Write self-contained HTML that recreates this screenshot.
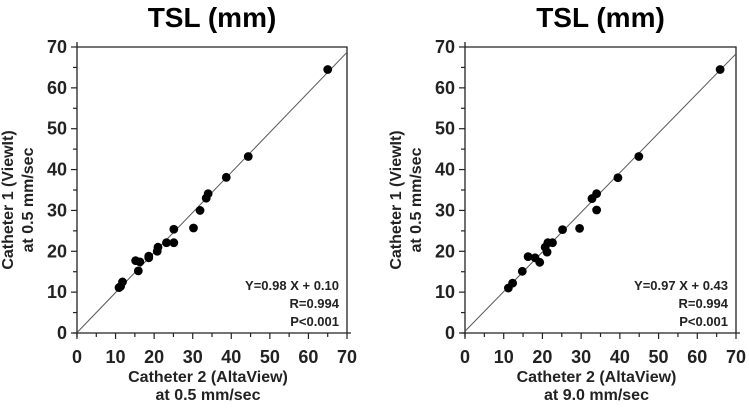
<!DOCTYPE html>
<html><head><meta charset="utf-8"><style>
body{margin:0;background:#fff;}
svg{display:block;font-family:"Liberation Sans",Arial,sans-serif;font-weight:bold;}
</style></head><body>
<svg id="svg" width="749" height="408" viewBox="0 0 749 408" xmlns="http://www.w3.org/2000/svg"></svg>
<script>
const ticks=[0,10,20,30,40,50,60,70];
const leftX=[65.0,44.4,38.7,34.0,33.5,31.9,30.2,25.1,25.1,23.2,21.0,20.8,18.6,18.6,15.2,16.3,15.9,11.8,11.3,10.9];
const leftY=[64.5,43.2,38.1,34.1,33.0,30.0,25.7,25.4,22.1,22.1,21.0,20.0,18.8,18.4,17.7,17.4,15.2,12.5,11.4,11.1];
const rightX=[65.9,44.9,39.5,34.0,32.8,34.0,29.6,25.2,22.6,21.4,20.7,21.2,16.3,18.1,19.3,14.8,12.3,11.2];
const rightY=[64.5,43.2,38.0,34.1,32.9,30.1,25.6,25.3,22.1,22.1,21.0,19.8,18.7,18.4,17.3,15.1,12.2,11.0];
const leftFit=[0.98,0.10];
const rightFit=[0.97,0.43];
const panels=[
 {name:'left',x0:77,x1:347,y0:333,y1:47,xs:leftX,ys:leftY,fit:leftFit,eq:'Y=0.98 X + 0.10',xt2:'at 0.5 mm/sec'},
 {name:'right',x0:465,x1:736,y0:333,y1:47,xs:rightX,ys:rightY,fit:rightFit,eq:'Y=0.97 X + 0.43',xt2:'at 9.0 mm/sec'}
];
const NS='http://www.w3.org/2000/svg';
const svg=document.getElementById('svg');
function mk(tag,attrs,parent,text){const e=document.createElementNS(NS,tag);for(const k in attrs)e.setAttribute(k,attrs[k]);if(text!==undefined)e.textContent=text;(parent||svg).appendChild(e);return e;}
panels.forEach(p=>{
 const sx=v=>p.x0+(p.x1-p.x0)*v/70;
 const sy=v=>p.y0-(p.y0-p.y1)*v/70;
 const g=mk('g',{});
 
 
 const cx=(p.x0+p.x1)/2;
 const t=mk('text',{x:cx,y:27,'text-anchor':'middle','font-size':28},g,'TSL (mm)');
 
 
 const fr=mk('path',{d:`M${p.x0} ${p.y0+4}V${p.y1-5}M${p.x0} ${p.y1}H${p.x1}V${p.y0}M${p.x0-4} ${p.y0}H${p.x1+4}`,stroke:'#222','stroke-width':1.3,fill:'none'},g);
 
 
 for(let v=0;v<=70;v+=5){
  const maj=v%10===0;
  mk('line',{x1:sx(v),x2:sx(v),y1:p.y0,y2:p.y0+(maj?6:4),stroke:'#222','stroke-width':1.2},g);
  mk('line',{x1:p.x0,x2:p.x0-(maj?6:4),y1:sy(v),y2:sy(v),stroke:'#222','stroke-width':1.2},g);
 }
 ticks.forEach(v=>{
  const a=mk('text',{x:sx(v),y:363,'text-anchor':'middle','font-size':18,fill:'#222'},g,String(v));
  
  
  const b=mk('text',{x:p.x0-10,y:sy(v)+6,'text-anchor':'end','font-size':18,fill:'#222'},g,String(v));
  
  
 });
 const xt=mk('text',{x:cx-4,y:382,'text-anchor':'middle','font-size':16,fill:'#222'},g,'Catheter 2 (AltaView)');
 
 
 const xt2=mk('text',{x:cx-4,y:400,'text-anchor':'middle','font-size':16,fill:'#222'},g,p.xt2);
 
 
 const ycx=p.x0-64, ycy=(p.y0+p.y1)/2+10;
 const yt=mk('text',{x:ycx,y:ycy,'text-anchor':'middle','font-size':16,fill:'#222',transform:`rotate(-90 ${ycx} ${ycy})`},g,'Catheter 1 (ViewIt)');
 
 
 const yt2=mk('text',{x:ycx+20,y:ycy,'text-anchor':'middle','font-size':16,fill:'#222',transform:`rotate(-90 ${ycx+20} ${ycy})`},g,'at 0.5 mm/sec');
 
 
 const fl=mk('line',{x1:sx(0),y1:sy(p.fit[1]),x2:sx(70),y2:sy(p.fit[0]*70+p.fit[1]),stroke:'#555','stroke-width':1},g);
 
 
 p.xs.forEach((v,i)=>{
  const c=mk('circle',{cx:sx(v),cy:sy(p.ys[i]),r:4.4,fill:'#000'},g);
  
  
 });
 const st=[[p.eq,290],['R=0.994',308],['P<0.001',326]];
 st.forEach(s=>{
  const e=mk('text',{x:p.x1-8,y:s[1],'text-anchor':'end','font-size':13,fill:'#222'},g,s[0]);
  
  
 });
});
</script>
</body></html>
